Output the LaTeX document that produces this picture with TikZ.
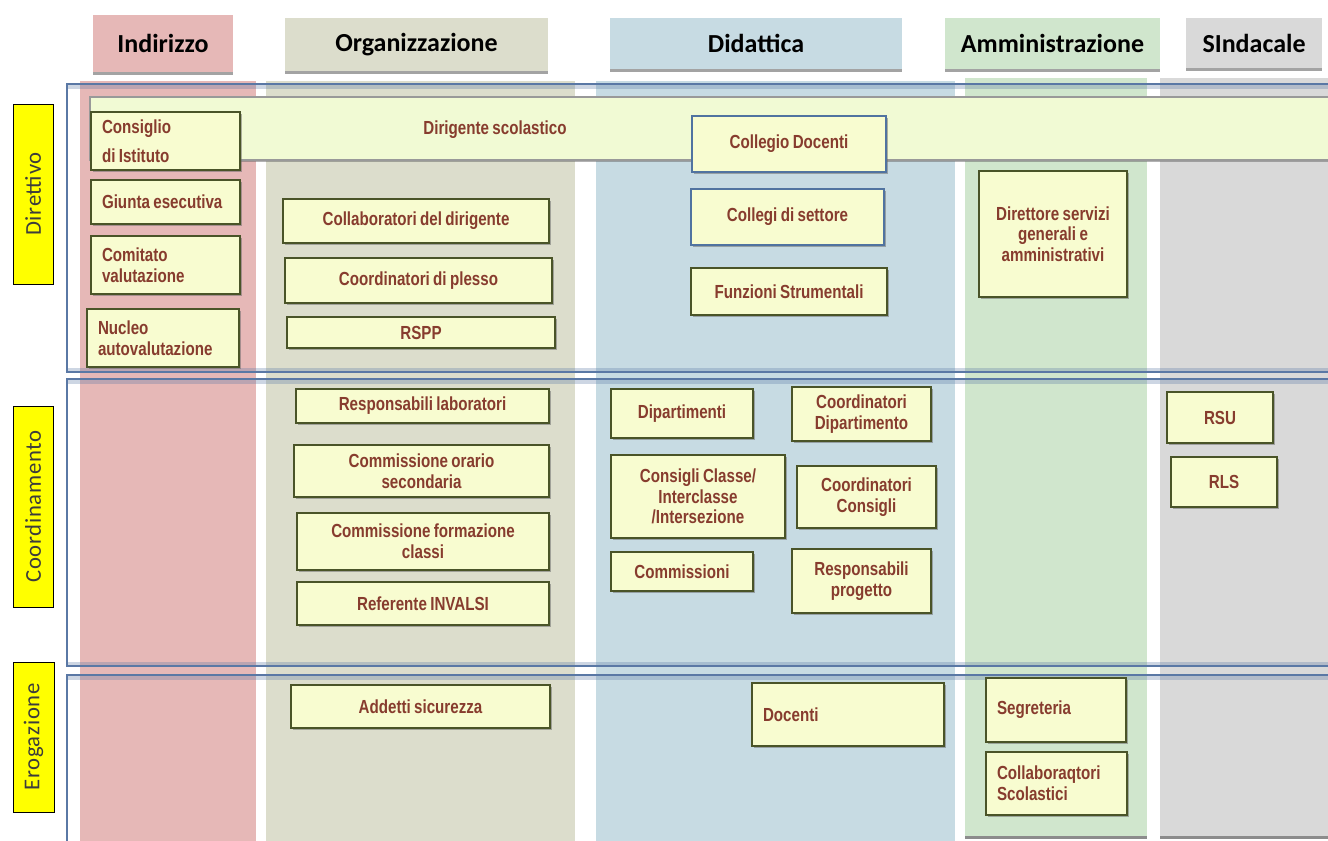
\documentclass[tikz,border=0pt]{standalone}
\usepackage{fontspec}
\setmainfont{Carlito}
\newfontfamily\bxf[FakeStretch=0.8,WordSpace=0.8]{Liberation Sans}
\usetikzlibrary{shadows}
\definecolor{pinkc}{RGB}{230,184,183}
\definecolor{orgc}{RGB}{220,221,204}
\definecolor{didc}{RGB}{199,219,227}
\definecolor{ammc}{RGB}{208,230,205}
\definecolor{sinc}{RGB}{217,217,217}
\definecolor{boxfill}{RGB}{248,252,208}
\definecolor{barfill}{RGB}{241,250,212}
\definecolor{boxtext}{RGB}{135,60,46}
\definecolor{boxborder}{RGB}{74,84,40}
\definecolor{blueborder}{RGB}{80,115,160}
\definecolor{framec}{RGB}{90,120,165}
\definecolor{labely}{RGB}{255,255,0}
\definecolor{labtext}{RGB}{60,60,60}
\newcommand{\bx}[7][]{%
 \pgfmathsetmacro{\bw}{(#5-#3)*0.75}%
 \pgfmathsetmacro{\bh}{(#6-#4)*0.75}%
 \node[box,align=center,minimum width=\bw pt,minimum height=\bh pt,#1] (#2) at ({(#3+#5)/2},{(#4+#6)/2}) {#7};}
\newcommand{\bxl}[7][]{%
 \pgfmathsetmacro{\tw}{(#5-#3-22)*0.75}%
 \pgfmathsetmacro{\bh}{(#6-#4)*0.75}%
 \node[box,align=flush left,inner xsep=8.25pt,text width=\tw pt,minimum height=\bh pt,#1] (#2) at ({(#3+#5)/2},{(#4+#6)/2}) {#7};}
\newcommand{\hdr}[7][]{%
 \pgfmathsetmacro{\bw}{(#5-#3)*0.75}%
 \pgfmathsetmacro{\bh}{(#6-#4)*0.75}%
 \node[header,minimum width=\bw pt,minimum height=\bh pt,#1] (#2) at ({(#3+#5)/2},{(#4+#6)/2}) {#7};}
\begin{document}
\begin{tikzpicture}[x=0.75pt,y=-0.75pt,
  box/.style={draw=boxborder,line width=0.8pt,fill=boxfill,text=boxtext,
    font=\bxf\bfseries\fontsize{14.2}{15.5}\selectfont,inner ysep=0pt,inner xsep=2pt,
    drop shadow={shadow xshift=1.2pt,shadow yshift=-1.8pt,fill=black!60,opacity=0.5}},
  bluebox/.style={draw=blueborder},
  header/.style={font=\bfseries\fontsize{19.5}{22}\selectfont,text=black,inner sep=0pt,
    drop shadow={shadow xshift=0pt,shadow yshift=-2pt,fill=black!60,opacity=0.6}},
  lbl/.style={draw=black,line width=0.7pt,fill=labely,text=labtext,rotate=90,
    font=\addfontfeatures{LetterSpace=3}\fontsize{17}{18}\selectfont,inner sep=0pt},
  frame/.style={draw=framec,line width=0.8},
  band/.style={draw=framec,line width=3,opacity=0.3}
]
\useasboundingbox (0,0) rectangle (1328,840);
\clip (0,0) rectangle (1328,840);
\fill[white] (0,0) rectangle (1328,840);
% columns
\fill[pinkc] (80,81) rectangle (256,845);
\fill[orgc] (266,81) rectangle (575,845);
\fill[didc] (596,81) rectangle (955,845);
\fill[black!45] (965,836) rectangle (1147,839);
\fill[ammc] (965,78) rectangle (1147,836);
\fill[black!45] (1160,836) rectangle (1340,839);
\fill[sinc] (1160,78) rectangle (1340,836);
% headers
\hdr[fill=pinkc]{hind}{93}{15}{233}{72}{Indirizzo}
\hdr[fill=orgc]{horg}{285}{18}{548}{71}{Organizzazione}
\hdr[fill=didc]{hdid}{610}{18}{902}{69}{Didattica}
\hdr[fill=ammc]{hamm}{945}{18}{1160}{69}{Amministrazione}
\hdr[fill=sinc]{hsin}{1186}{18}{1322}{68}{SIndacale}
% frames
\draw[frame] (67,84) rectangle (1345,372);
\draw[frame] (67,379) rectangle (1345,666);
\draw[frame] (67,675) rectangle (1345,850);
\draw[band] (67,86.5) -- (1345,86.5);
\draw[band] (67,369.5) -- (1345,369.5);
\draw[band] (67,382) -- (1345,382);
\draw[band] (67,663.5) -- (1345,663.5);
\draw[band] (67,678) -- (1345,678);
% row labels
\node[lbl,minimum width=135pt,minimum height=30pt] (ldir) at (33,194) {Direttivo};
\node[lbl,minimum width=150.75pt,minimum height=30pt] (lcoo) at (33,506.5) {Coordinamento};
\node[lbl,minimum width=112.5pt,minimum height=30.75pt] (lero) at (33.5,737) {Erogazione};
% dirigente bar
\node[box,draw=black!40,fill=barfill,minimum width=941.25pt,minimum height=47.25pt] (dirbar) at (717.5,128.5) {};
\node[text=boxtext,font=\bxf\bfseries\fontsize{14.2}{15.5}\selectfont,inner sep=0pt] (dirtxt) at (495,130) {Dirigente scolastico};
% Indirizzo
\bxl{ci}{91}{112}{240}{170}{Consiglio\\[6pt]di Istituto}
\bxl{ge}{91}{180}{240}{224}{Giunta esecutiva}
\bxl{cv}{91}{236}{240}{294}{Comitato\\valutazione}
\bxl{na}{87}{309}{239}{367}{Nucleo\\autovalutazione}
% Organizzazione
\bx{cd}{283}{199}{549}{243}{Collaboratori del dirigente}
\bx{cp}{285}{258}{552}{303}{Coordinatori di plesso}
\bx{rspp}{287}{317}{555}{348}{RSPP}
\bx{rl}{296}{389}{549}{423}{Responsabili laboratori}
\bx{cos}{294}{445}{549}{497}{Commissione orario\\secondaria}
\bx{cfc}{297}{513}{549}{570}{Commissione formazione\\classi}
\bx{ri}{297}{582}{549}{625}{Referente INVALSI}
\bx{as}{291}{685}{550}{728}{Addetti sicurezza}
% Didattica
\bx[bluebox]{cdoc}{692}{116}{886}{172}{Collegio Docenti}
\bx[bluebox]{cds}{691}{189}{884}{245}{Collegi di settore}
\bx{fs}{691}{268}{887}{315}{Funzioni Strumentali}
\bx{dip}{611}{389}{753}{438}{Dipartimenti}
\bx{cdip}{792}{387}{931}{441}{Coordinatori\\Dipartimento}
\bx{ccl}{611}{455}{785}{538}{Consigli Classe/\\Interclasse\\/Intersezione}
\bx{ccons}{797}{466}{936}{528}{Coordinatori\\Consigli}
\bx{comm}{611}{552}{753}{591}{Commissioni}
\bx{rp}{792}{549}{931}{613}{Responsabili\\progetto}
\bxl{doc}{752}{683}{944}{746}{Docenti}
% Amministrazione
\bx{dsga}{979}{171}{1127}{297}{Direttore servizi\\generali e\\amministrativi}
\bxl{seg}{986}{678}{1126}{742}{Segreteria}
\bxl{cs}{986}{752}{1127}{815}{Collaboraqtori\\Scolastici}
% Sindacale
\bx{rsu}{1167}{392}{1273}{443}{RSU}
\bx{rls}{1171}{457}{1277}{507}{RLS}
\end{tikzpicture}
\end{document}
